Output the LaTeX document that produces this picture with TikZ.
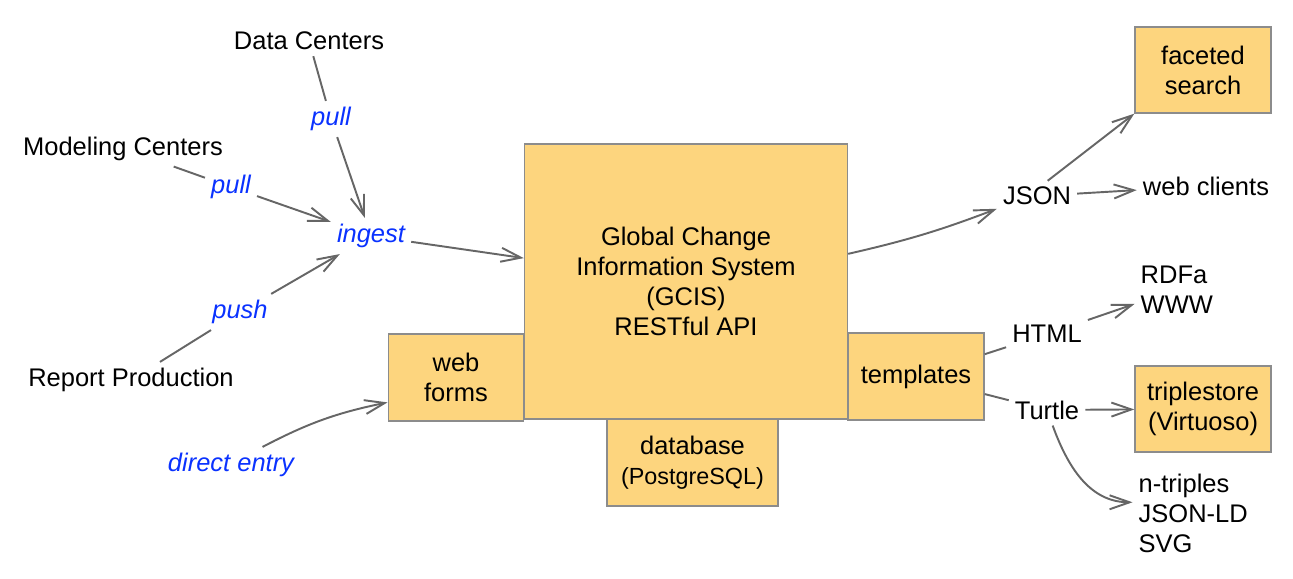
\documentclass[tikz,border=0pt]{standalone}
\usepackage{fontspec}
\setmainfont{Liberation Sans}
\usetikzlibrary{arrows.meta}
\definecolor{boxfill}{HTML}{FDD57E}
\definecolor{boxline}{HTML}{8C8C8C}
\definecolor{edgegray}{HTML}{666666}
\definecolor{viablue}{HTML}{0A32FF}
\newcommand\diafont{\fontsize{14.5}{17.1}\selectfont}
\tikzset{
    box/.style={draw=boxline, fill=boxfill, line width=0.8pt, align=center, inner sep=0pt},
    via/.style={text=viablue, font=\diafont\itshape},
    arr/.style={draw=edgegray, line width=1.1pt, -{Straight Barb[length=4mm,width=2.8mm]}},
    ln/.style={draw=edgegray, line width=1.1pt}
}
\begin{document}
\begin{tikzpicture}[font=\diafont]
\useasboundingbox (0,0) rectangle (25.86,11.58);
% boxes
\node[box, minimum width=6.46cm, minimum height=5.5cm] (gcis) at (13.72,5.95)
    {Global Change\\Information System\\(GCIS)\\RESTful API};
\node[box, minimum width=2.71cm, minimum height=1.74cm] (forms) at (9.12,4.03) {web\\forms};
\node[box, minimum width=2.72cm, minimum height=1.74cm] (templ) at (18.32,4.05) {templates};
\node[box, minimum width=3.42cm, minimum height=1.74cm] (db) at (13.85,2.33)
    {database\\{\fontsize{13.3}{16}\selectfont(PostgreSQL)}};
\node[box, minimum width=2.72cm, minimum height=1.72cm] (faceted) at (24.06,10.18) {faceted\\search};
\node[box, minimum width=2.72cm, minimum height=1.72cm] (triple) at (24.06,3.40) {triplestore\\(Virtuoso)};
% sources
\node (DataC) at (6.18,10.76) {Data Centers};
\node (ModC) at (2.46,8.61) {Modeling Centers};
\node (RepP) at (2.62,3.98) {Report Production};
\node[via] (pull1) at (6.62,9.2) {pull};
\node[via] (pull2) at (4.62,7.84) {pull};
\node[via] (push) at (4.8,5.34) {push};
\node[via] (ingest) at (7.42,6.86) {ingest};
\node[via] (direct) at (4.62,2.28) {direct entry};
% outputs
\node (JSON) at (20.74,7.66) {JSON};
\node (webcl) at (24.12,7.86) {web clients};
\node[anchor=west, align=left] (rdfa) at (22.69,5.79) {RDFa\\WWW};
\node (HTML) at (20.94,4.9) {HTML};
\node (Turtle) at (20.94,3.38) {Turtle};
\node[anchor=west, align=left] (ntrip) at (22.65,1.32) {n-triples\\JSON-LD\\SVG};
\foreach \src/\lbl in {DataC/pull1,ModC/pull2,RepP/push}
    \draw[arr] (\src) -- (\lbl) -- (ingest);
\draw[arr] (ingest) -- (gcis);
\draw[arr] (direct) to[bend left=8] (forms.200);
\draw[arr] (gcis) to[bend right=4] (JSON);
\draw[arr] (JSON.55) -- (faceted.south west);
\draw[arr] (JSON) -- (webcl);
\draw[ln] (templ) -- (HTML);
\draw[arr] (HTML) -- (rdfa);
\draw[ln] (templ) -- (Turtle);
\draw[arr] (Turtle) -- (triple);
\draw[arr] (Turtle) to[out=-70,in=180] (ntrip.170);
\end{tikzpicture}
\end{document}
